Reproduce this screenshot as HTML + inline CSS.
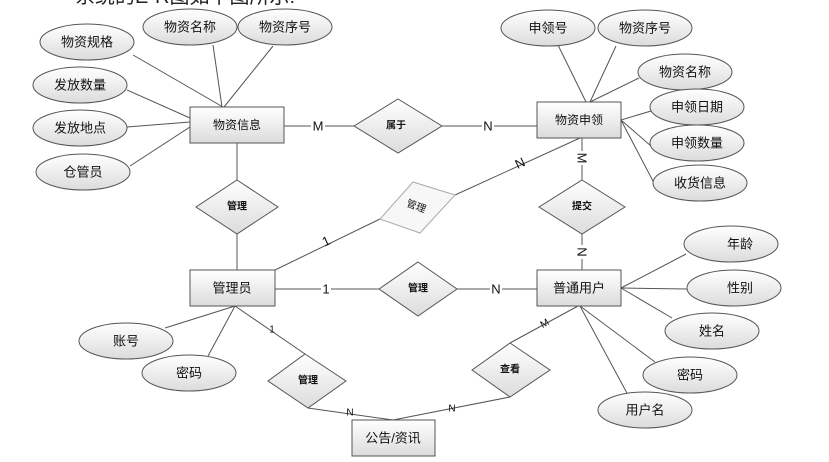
<!DOCTYPE html>
<html><head><meta charset="utf-8"><style>
html,body{margin:0;padding:0;background:#fff;}
svg{display:block;font-family:"Liberation Sans","Noto Sans CJK SC",sans-serif;}
</style></head><body>
<svg width="829" height="462" viewBox="0 0 829 462" xmlns="http://www.w3.org/2000/svg">
<defs>
<linearGradient id="g" x1="0" y1="0" x2="0" y2="1"><stop offset="0" stop-color="#ffffff"/><stop offset="1" stop-color="#dcdcdc"/></linearGradient>
</defs>
<text x="75" y="3" font-size="20" fill="#222">系统的E-R图如下图所示:</text>
<g stroke="#555" stroke-width="1" fill="none">
<line x1="133" y1="55" x2="223" y2="107"/>
<line x1="213" y1="45" x2="222" y2="107"/>
<line x1="273" y1="46" x2="224" y2="107"/>
<line x1="127" y1="90" x2="190" y2="118"/>
<line x1="127" y1="127" x2="190" y2="122"/>
<line x1="130" y1="166" x2="190" y2="127"/>
<line x1="284" y1="126" x2="354" y2="126"/>
<line x1="442" y1="126" x2="537" y2="126"/>
<line x1="558" y1="45" x2="586" y2="102"/>
<line x1="616" y1="46" x2="590" y2="102"/>
<line x1="639" y1="78" x2="590" y2="102"/>
<line x1="621" y1="120" x2="651" y2="111"/>
<line x1="621" y1="120" x2="651" y2="146"/>
<line x1="621" y1="120" x2="654" y2="183"/>
<line x1="237" y1="143" x2="237" y2="180"/>
<line x1="237" y1="234" x2="237" y2="270"/>
<line x1="275" y1="270" x2="380" y2="219"/>
<line x1="455" y1="195" x2="580" y2="138"/>
<line x1="582" y1="138" x2="582" y2="180"/>
<line x1="582" y1="234" x2="582" y2="270"/>
<line x1="275" y1="289" x2="379" y2="289"/>
<line x1="457" y1="289" x2="537" y2="289"/>
<line x1="621" y1="288" x2="686" y2="254"/>
<line x1="621" y1="288" x2="687" y2="289"/>
<line x1="621" y1="288" x2="672" y2="318"/>
<line x1="580" y1="306" x2="655" y2="362"/>
<line x1="580" y1="306" x2="628" y2="395"/>
<line x1="578" y1="306" x2="510" y2="343"/>
<line x1="510" y1="397" x2="393" y2="420"/>
<line x1="235" y1="306" x2="165" y2="328"/>
<line x1="235" y1="306" x2="208" y2="356"/>
<line x1="235" y1="306" x2="305" y2="354"/>
<line x1="308" y1="408" x2="393" y2="420"/>
</g>
<g fill="url(#g)" stroke="#555" stroke-width="1">
<ellipse cx="87" cy="42" rx="47" ry="18"/>
<ellipse cx="190" cy="27" rx="47" ry="18"/>
<ellipse cx="285" cy="27" rx="47" ry="18"/>
<ellipse cx="80" cy="85" rx="47" ry="18"/>
<ellipse cx="80" cy="128" rx="47" ry="18"/>
<ellipse cx="83" cy="172" rx="47" ry="18"/>
<ellipse cx="548" cy="28" rx="47" ry="18"/>
<ellipse cx="645" cy="28" rx="47" ry="18"/>
<ellipse cx="685" cy="72" rx="47" ry="18"/>
<ellipse cx="697" cy="107" rx="47" ry="18"/>
<ellipse cx="697" cy="143" rx="47" ry="18"/>
<ellipse cx="700" cy="183" rx="47" ry="18"/>
<ellipse cx="731" cy="244" rx="47" ry="18"/>
<ellipse cx="734" cy="288" rx="47" ry="18"/>
<ellipse cx="712" cy="331" rx="47" ry="18"/>
<ellipse cx="690" cy="375" rx="47" ry="18"/>
<ellipse cx="645" cy="410" rx="47" ry="18"/>
<ellipse cx="126" cy="341" rx="47" ry="18"/>
<ellipse cx="189" cy="373" rx="47" ry="18"/>
<rect x="190" y="107" width="94" height="36"/>
<rect x="537" y="102" width="84" height="36"/>
<rect x="190" y="270" width="85" height="36"/>
<rect x="537" y="270" width="84" height="36"/>
<rect x="352" y="420" width="83" height="36"/>
<polygon points="398,99 442,126 398,153 354,126"/>
<polygon points="237,180 278,207 237,234 196,207"/>
<polygon points="582,180 625,207 582,234 539,207"/>
<polygon points="418,262 457,289 418,316 379,289"/>
<polygon points="305,354 346,381 308,408 268,381"/>
<polygon points="510,343 550,370 510,397 472,370"/>
</g>
<polygon points="380,219 413,182 455,195 420,233" fill="#f7f7f7" stroke="#aaa" stroke-width="1"/>
<g font-size="13" fill="#111" text-anchor="middle" dominant-baseline="central">
<text x="87" y="42">物资规格</text>
<text x="190" y="27">物资名称</text>
<text x="285" y="27">物资序号</text>
<text x="80" y="85">发放数量</text>
<text x="80" y="128">发放地点</text>
<text x="83" y="172">仓管员</text>
<text x="548" y="28">申领号</text>
<text x="645" y="28">物资序号</text>
<text x="685" y="72">物资名称</text>
<text x="697" y="107">申领日期</text>
<text x="697" y="143">申领数量</text>
<text x="700" y="183">收货信息</text>
<text x="740" y="244">年龄</text>
<text x="740" y="288">性别</text>
<text x="712" y="331">姓名</text>
<text x="690" y="375">密码</text>
<text x="645" y="410">用户名</text>
<text x="126" y="341">账号</text>
<text x="189" y="373">密码</text>
<text x="237" y="125" font-size="12">物资信息</text>
<text x="579" y="120" font-size="12">物资申领</text>
<text x="232" y="288">管理员</text>
<text x="579" y="288">普通用户</text>
<text x="393" y="438">公告/资讯</text>
</g>
<g font-size="10" font-weight="bold" fill="#111" text-anchor="middle" dominant-baseline="central">
<text x="396" y="126">属于</text>
<text x="237" y="207">管理</text>
<text x="582" y="207">提交</text>
<text x="418" y="289">管理</text>
<text x="308" y="381">管理</text>
<text x="510" y="370">查看</text>
<text x="416" y="207" transform="rotate(20 416 207)" font-weight="normal">管理</text>
</g>
<g font-size="13" fill="#111" text-anchor="middle" dominant-baseline="central">
<rect x="311" y="119" width="14" height="14" fill="#fff"/>
<text x="318" y="126">M</text>
<rect x="482" y="119" width="12" height="14" fill="#fff"/>
<text x="488" y="126">N</text>
<text x="520" y="163" transform="rotate(-25 520 163)">N</text>
<text x="326" y="241" transform="rotate(-25 326 241)">1</text>
<rect x="576" y="151" width="12" height="14" fill="#fff"/>
<text x="582" y="158" transform="rotate(90 582 158)">M</text>
<rect x="576" y="245" width="12" height="14" fill="#fff"/>
<text x="582" y="252" transform="rotate(90 582 252)">N</text>
<rect x="321" y="282" width="10" height="14" fill="#fff"/>
<text x="326" y="289">1</text>
<rect x="490" y="282" width="12" height="14" fill="#fff"/>
<text x="496" y="289">N</text>
<text x="545" y="324" font-size="10" transform="rotate(-30 545 324)">M</text>
<text x="452" y="409" font-size="10">N</text>
<text x="272" y="330" font-size="10">1</text>
<text x="350" y="413" font-size="10">N</text>
</g>
</svg>
</body></html>
